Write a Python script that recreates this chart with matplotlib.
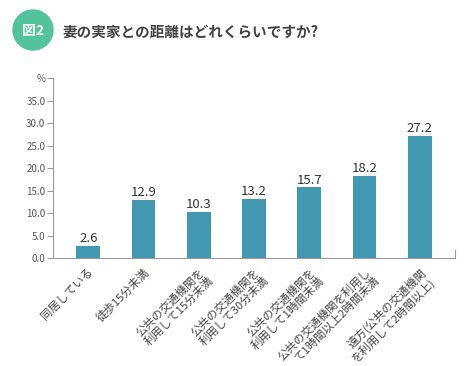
import matplotlib
matplotlib.use("Agg")
import matplotlib.pyplot as plt
from matplotlib.patches import Ellipse

plt.rcParams['font.family'] = ['Noto Sans CJK JP', 'DejaVu Sans']

# ---------------- DATA ----------------
categories = [
    "同居している",
    "徒歩15分未満",
    "公共の交通機関を\n利用して15分未満",
    "公共の交通機関を\n利用して30分未満",
    "公共の交通機関を\n利用して1時間未満",
    "公共の交通機関を利用し\nて1時間以上2時間未満",
    "遠方(公共の交通機関\nを利用して2時間以上)",
]
values = [2.6, 12.9, 10.3, 13.2, 15.7, 18.2, 27.2]
yticks = [0, 5, 10, 15, 20, 25, 30, 35, 40]
ytick_labels = ["0.0", "5.0", "10.0", "15.0", "20.0", "25.0", "30.0", "35.0", "%"]
title = "妻の実家との距離はどれくらいですか?"
badge = "図2"
# ---------------------------------------

BAR_COLOR = "#4198b0"
GRID_COLOR = "#9a9a9a"
TEXT_COLOR = "#555555"

fig = plt.figure(figsize=(4.66, 3.66), dpi=100)
ax = fig.add_axes([0.1137, 0.295, 0.8627, 0.4913])

x = list(range(len(values)))
ax.bar(x, values, width=0.43, color=BAR_COLOR)
for xi, v in zip(x, values):
    ax.text(xi, v + 0.2, f"{v:.1f}", ha="center", va="bottom",
            fontsize=9.5, color="#333333")

ax.set_xlim(-0.64, len(values) - 0.36)
ax.set_ylim(0, 40)
ax.set_yticks(yticks)
ax.set_yticklabels(ytick_labels, fontsize=7, color=TEXT_COLOR)
ax.tick_params(axis="y", length=4, color=GRID_COLOR, pad=1.5)

ax.set_xticks(x)
ax.set_xticklabels(categories, rotation=45, ha="right", va="top",
                   rotation_mode="anchor", fontsize=8.2, color="#444444",
                   multialignment="right", linespacing=1.1)
ax.tick_params(axis="x", length=0, pad=6)

ax.spines["top"].set_visible(False)
ax.spines["left"].set_color(GRID_COLOR)
ax.spines["bottom"].set_color(GRID_COLOR)
ax.spines["right"].set_color(GRID_COLOR)
ax.spines["right"].set_bounds(0, 1.8)

# title badge
fig.add_artist(Ellipse((33 / 466, 1 - 30 / 366), 40 / 466, 40 / 366,
                       transform=fig.transFigure, color="#52c39b"))
fig.text(33 / 466, 1 - 31 / 366, badge, ha="center", va="center",
         fontsize=10, fontweight="bold", color="white")
fig.text(62 / 466, 1 - 32 / 366, title, ha="left", va="center",
         fontsize=10.5, fontweight="bold", color="#444444")

fig.savefig("out.png", dpi=100)
